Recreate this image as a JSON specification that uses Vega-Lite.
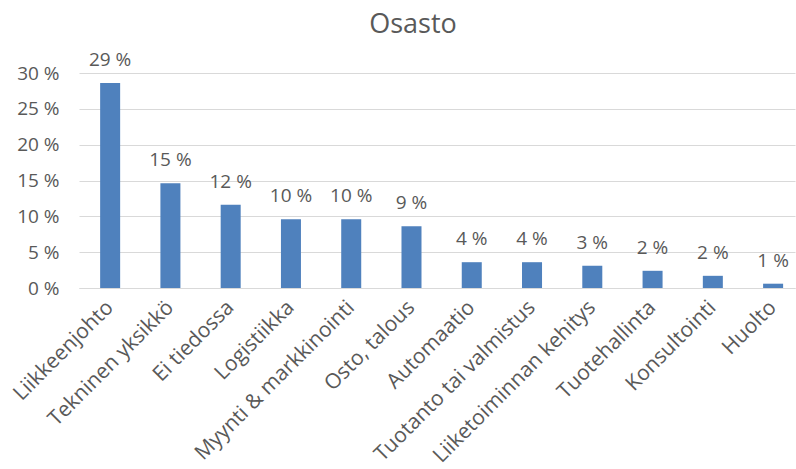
{
  "$schema": "https://vega.github.io/schema/vega-lite/v6.json",
  "autosize": "none",
  "width": 716,
  "height": 215,
  "padding": {"left": 79, "top": 73, "right": 1, "bottom": 181},
  "background": "white",
  "title": {
    "text": "Osasto",
    "font": "Open Sans",
    "fontSize": 27,
    "fontWeight": "normal",
    "color": "#595959",
    "anchor": "middle",
    "frame": "group",
    "dx": -24,
    "offset": 12
  },
  "data": {
    "values": [
      {"osasto": "Liikkeenjohto", "v": 28.6},
      {"osasto": "Tekninen yksikkö", "v": 14.6},
      {"osasto": "Ei tiedossa", "v": 11.6},
      {"osasto": "Logistiikka", "v": 9.6},
      {"osasto": "Myynti & markkinointi", "v": 9.6},
      {"osasto": "Osto, talous", "v": 8.6},
      {"osasto": "Automaatio", "v": 3.6},
      {"osasto": "Tuotanto tai valmistus", "v": 3.6},
      {"osasto": "Liiketoiminnan kehitys", "v": 3.1},
      {"osasto": "Tuotehallinta", "v": 2.4},
      {"osasto": "Konsultointi", "v": 1.7},
      {"osasto": "Huolto", "v": 0.6}
    ]
  },
  "encoding": {
    "x": {
      "field": "osasto",
      "type": "nominal",
      "sort": null,
      "scale": {"paddingInner": 0.668, "paddingOuter": 0.274, "align": 0.64},
      "axis": {
        "title": null,
        "labelAngle": -45,
        "labelAlign": "right",
        "labelBaseline": "middle",
        "labelFont": "Open Sans",
        "labelFontSize": 21,
        "labelColor": "#595959",
        "labelPadding": 16,
        "labelLimit": 400,
        "ticks": false,
        "domain": true,
        "domainColor": "#D9D9D9",
        "domainWidth": 1,
        "grid": false
      }
    },
    "y": {
      "field": "v",
      "type": "quantitative",
      "scale": {"domain": [0, 30], "nice": false},
      "axis": {
        "title": null,
        "values": [0, 5, 10, 15, 20, 25, 30],
        "labelExpr": "datum.value + ' %'",
        "labelFont": "Open Sans",
        "labelFontSize": 19,
        "labelColor": "#595959",
        "labelPadding": 20,
        "ticks": false,
        "domain": false,
        "grid": true,
        "gridColor": "#D9D9D9",
        "gridWidth": 1
      }
    }
  },
  "layer": [
    {"mark": {"type": "bar", "color": "#4F81BD"}},
    {
      "mark": {
        "type": "text",
        "font": "Open Sans",
        "fontSize": 19,
        "color": "#595959",
        "baseline": "alphabetic",
        "dy": -17,
        "text": {"expr": "format(datum.v, '.0f') + ' %'"}
      }
    }
  ],
  "config": {"view": {"stroke": null}}
}
